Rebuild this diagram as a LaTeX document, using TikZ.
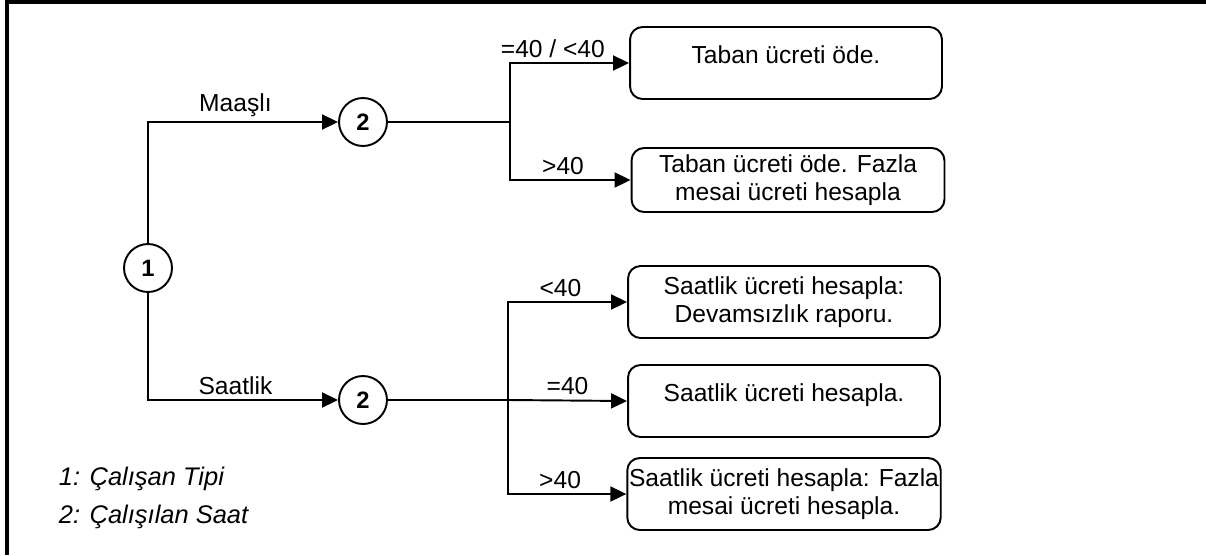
\documentclass[tikz,border=0pt]{standalone}
\usepackage{fontspec}
\setmainfont{Liberation Sans}
\usetikzlibrary{arrows.meta}

\begin{document}
\begin{tikzpicture}[x=0.02cm, y=-0.02cm, line width=1.1pt,
    txt/.style={font=\fontsize{14}{16}\selectfont},
    decision/.style={draw, circle, minimum size=0.96cm, inner sep=0pt, font=\fontsize{13.5}{15}\selectfont\bfseries},
    result/.style={draw, rounded corners=0.25cm, minimum width=6.24cm, minimum height=1.44cm, inner xsep=1pt, align=center, txt},
    oneline/.style={text height=1.2ex, text depth=1.2ex},
    arr/.style={-{Triangle[length=0.32cm, width=0.3cm]}},
    cond/.style={above, inner sep=2.5pt, txt},
    legend/.style={anchor=base west, inner sep=0pt, font=\fontsize{14.5}{16}\selectfont\itshape}]
\useasboundingbox (0,0) rectangle (1206,555);
% Frame: only top and left edge
\draw[line width=2pt] (7,555) -- (7,2) -- (1206,2);
% Decision circles
\node[decision] (n1) at (148,268) {1};
\node[decision] (n2a) at (363,122) {2};
\node[decision] (n2b) at (363,400) {2};
% Result boxes
\node[result, oneline] (b1) at (786,63) {Taban ücreti öde.};
\node[result, minimum height=1.28cm, minimum width=6.26cm] (b2) at (788,180) {Taban ücreti öde. Fazla\\mesai ücreti hesapla};
\node[result] (b3) at (784,302) {Saatlik ücreti hesapla:\\Devamsızlık raporu.};
\node[result, oneline] (b4) at (784,401) {Saatlik ücreti hesapla.};
\node[result] (b5) at (784,494) {Saatlik ücreti hesapla: Fazla\\mesai ücreti hesapla.};
% Branch points
\coordinate (j1) at (510,122);
\coordinate (j2) at (508,400);
% Employee type
\draw[arr] (n1) |- (n2a) node[cond, pos=0.73] {Maaşlı};
\draw[arr] (n1) |- (n2b) node[cond, pos=0.73] {Saatlik};
% Hours worked
\draw (n2a) -- (j1);
\draw (n2b) -- (j2);
\draw[arr] (j1) |- (b1.west) node[cond, pos=0.68] {=40 / <40};
\draw[arr] (j1) |- (b2.west) node[cond, pos=0.72] {>40};
\draw[arr] (j2) |- (b3.west) node[cond, pos=0.72] {<40};
\draw[arr] (j2) -- (b4.west) node[cond, midway] {=40};
\draw[arr] (j2) |- (b5.west) node[cond, pos=0.72] {>40};
% Legend
\node[legend] (leg1) at (58,485) {1: Çalışan Tipi};
\node[legend] (leg2) at (58,523) {2: Çalışılan Saat};
\end{tikzpicture}
\end{document}
